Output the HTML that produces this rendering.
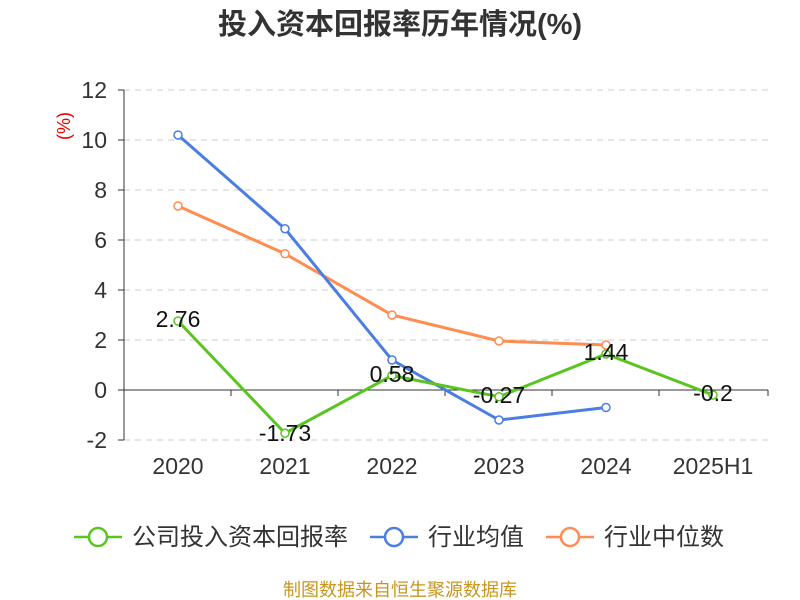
<!DOCTYPE html>
<html><head><meta charset="utf-8"><style>
body{margin:0;background:#fff;}
svg{display:block;font-family:"Liberation Sans","Noto Sans CJK SC",sans-serif;}
</style></head><body>
<svg width="800" height="600" viewBox="0 0 800 600" xmlns="http://www.w3.org/2000/svg">
<rect width="800" height="600" fill="#fff"/>
<text x="400" y="34" text-anchor="middle" font-size="29" font-weight="bold" fill="#333">投入资本回报率历年情况(%)</text>
<g stroke="#ccc" stroke-dasharray="6,5" stroke-width="1">
<line x1="124" y1="90" x2="768" y2="90"/>
<line x1="124" y1="140" x2="768" y2="140"/>
<line x1="124" y1="190" x2="768" y2="190"/>
<line x1="124" y1="240" x2="768" y2="240"/>
<line x1="124" y1="290" x2="768" y2="290"/>
<line x1="124" y1="340" x2="768" y2="340"/>
<line x1="124" y1="440" x2="768" y2="440"/>
</g>
<g stroke="#333" stroke-width="1">
<line x1="124" y1="90" x2="124" y2="440"/>
<line x1="124" y1="390" x2="768" y2="390"/>
<line x1="118" y1="90" x2="124" y2="90"/><line x1="118" y1="140" x2="124" y2="140"/>
<line x1="118" y1="190" x2="124" y2="190"/><line x1="118" y1="240" x2="124" y2="240"/>
<line x1="118" y1="290" x2="124" y2="290"/><line x1="118" y1="340" x2="124" y2="340"/>
<line x1="118" y1="390" x2="124" y2="390"/><line x1="118" y1="440" x2="124" y2="440"/>
<line x1="124" y1="390" x2="124" y2="396"/><line x1="231" y1="390" x2="231" y2="396"/>
<line x1="338" y1="390" x2="338" y2="396"/><line x1="445" y1="390" x2="445" y2="396"/>
<line x1="552" y1="390" x2="552" y2="396"/><line x1="659" y1="390" x2="659" y2="396"/>
<line x1="768" y1="390" x2="768" y2="396"/>
</g>
<g font-size="23" fill="#333" text-anchor="end">
<text x="107" y="98">12</text><text x="107" y="148">10</text><text x="107" y="198">8</text>
<text x="107" y="248">6</text><text x="107" y="298">4</text><text x="107" y="348">2</text>
<text x="107" y="398">0</text><text x="107" y="448">-2</text>
</g>
<text x="70" y="126" font-size="18" fill="#e00" transform="rotate(-90 70 126)" text-anchor="middle">(%)</text>
<g font-size="23" fill="#333" text-anchor="middle">
<text x="178" y="474">2020</text><text x="285" y="474">2021</text><text x="392" y="474">2022</text>
<text x="499" y="474">2023</text><text x="606" y="474">2024</text><text x="713" y="474">2025H1</text>
</g>
<g fill="none" stroke-width="3">
<polyline stroke="#ff8c50" points="178,206 285,253.75 392,315 499,341 606,345"/>
<polyline stroke="#4a7ee0" points="178,135 285,228.75 392,360 499,420 606,407.5"/>
<polyline stroke="#5ac420" points="178,321 285,433.25 392,375.5 499,396.75 606,354 713,395"/>
</g>
<g fill="#fff" stroke-width="1.5">
<g stroke="#ff8c50"><circle cx="178" cy="206" r="4"/><circle cx="285" cy="253.75" r="4"/><circle cx="392" cy="315" r="4"/><circle cx="499" cy="341" r="4"/><circle cx="606" cy="345" r="4"/></g>
<g stroke="#4a7ee0"><circle cx="178" cy="135" r="4"/><circle cx="285" cy="228.75" r="4"/><circle cx="392" cy="360" r="4"/><circle cx="499" cy="420" r="4"/><circle cx="606" cy="407.5" r="4"/></g>
<g stroke="#5ac420"><circle cx="178" cy="321" r="4"/><circle cx="285" cy="433.25" r="4"/><circle cx="392" cy="375.5" r="4"/><circle cx="499" cy="396.75" r="4"/><circle cx="606" cy="354" r="4"/><circle cx="713" cy="395" r="4"/></g>
</g>
<g font-size="23" fill="#111" text-anchor="middle">
<text x="178" y="327">2.76</text><text x="285" y="441">-1.73</text><text x="392" y="382">0.58</text>
<text x="499" y="403">-0.27</text><text x="606" y="360">1.44</text><text x="713" y="401">-0.2</text>
</g>
<g stroke-width="2.5" fill="#fff">
<line x1="74" y1="537" x2="122" y2="537" stroke="#5ac420"/><circle cx="98" cy="537" r="9" stroke="#5ac420"/>
<line x1="370" y1="537" x2="418" y2="537" stroke="#4a7ee0"/><circle cx="394" cy="537" r="9" stroke="#4a7ee0"/>
<line x1="546" y1="537" x2="594" y2="537" stroke="#ff8c50"/><circle cx="570" cy="537" r="9" stroke="#ff8c50"/>
</g>
<g font-size="24" fill="#333">
<text x="132" y="545">公司投入资本回报率</text><text x="428" y="545">行业均值</text><text x="604" y="545">行业中位数</text>
</g>
<text x="400" y="596" text-anchor="middle" font-size="18" fill="#c8961e">制图数据来自恒生聚源数据库</text>
</svg>
</body></html>
